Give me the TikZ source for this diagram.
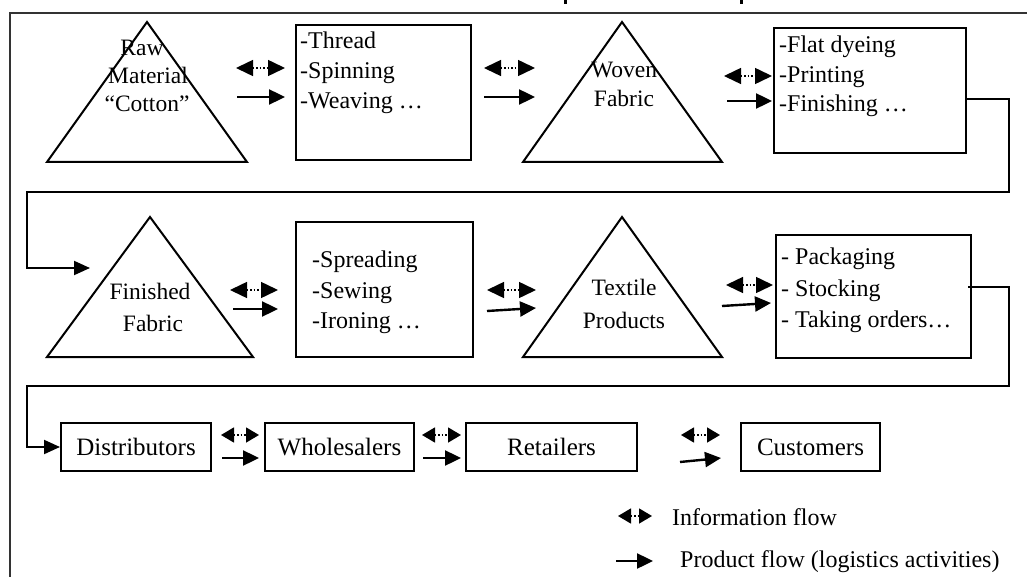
\documentclass[tikz,border=0pt]{standalone}
\usepackage{fontspec}
\setmainfont{Liberation Serif}
\usetikzlibrary{arrows.meta}
\begin{document}
\begin{tikzpicture}[x=1pt,y=-1pt,
  shapeline/.style={line width=2pt, line join=miter},
  box/.style={draw, line width=2pt, rectangle, inner sep=0pt},
  lbl/.style={anchor=base west, inner sep=0pt, font=\fontsize{24}{28}\selectfont},
  clbl/.style={anchor=base, inner sep=0pt, font=\fontsize{23.5}{28}\selectfont},
  rlbl/.style={anchor=base, inner sep=0pt, font=\fontsize{25}{28}\selectfont},
  infoarrow/.style={line width=1.5pt, dotted, {Triangle[length=17pt,width=16pt]}-{Triangle[length=17pt,width=16pt]}},
  smallinfo/.style={line width=1.5pt, dotted, {Triangle[length=13pt,width=15pt]}-{Triangle[length=13pt,width=15pt]}},
  prodarrow/.style={line width=2.4pt, -{Triangle[length=16pt,width=15pt]}},
  conn/.style={line width=2pt, line join=miter, -{Triangle[length=16pt,width=14pt]}},
]
\useasboundingbox (0,0) rectangle (1027,577);
\clip (0,0) rectangle (1027,577);
% frame and clipped title marks
\draw[line width=2.5pt, black!80] (10,13) rectangle (1100,700);
\fill (564,0) rectangle (566.5,4);
\fill (740,0) rectangle (742.5,4);

% ---------- row 1 ----------
\coordinate (t1a) at (147,22); \coordinate (t1b) at (47,162); \coordinate (t1c) at (247,162);
\draw[shapeline] (t1a) -- (t1b) -- (t1c) -- cycle;
\node[clbl] (t1l1) at (142,56) {Raw};
\node[clbl] (t1l2) at (148,84) {Material};
\node[clbl] (t1l3) at (147,112) {“Cotton”};

\node[box, minimum width=175, minimum height=135] (b1) at (383.5,92.5) {};
\node[lbl] (b1l1) at (300,49) {-Thread};
\node[lbl] (b1l2) at (300,79) {-Spinning};
\node[lbl] (b1l3) at (300,109) {-Weaving …};

\coordinate (t2a) at (622,22); \coordinate (t2b) at (523,162); \coordinate (t2c) at (722,162);
\draw[shapeline] (t2a) -- (t2b) -- (t2c) -- cycle;
\node[clbl] (t2l1) at (624,78) {Woven};
\node[clbl] (t2l2) at (624,107) {Fabric};

\node[box, minimum width=192, minimum height=125] (b2) at (870,90.5) {};
\node[lbl] (b2l1) at (779,53) {-Flat dyeing};
\node[lbl] (b2l2) at (779,83) {-Printing};
\node[lbl] (b2l3) at (779,112) {-Finishing …};

% ---------- row 2 ----------
\coordinate (t3a) at (150,217); \coordinate (t3b) at (47,357); \coordinate (t3c) at (253,357);
\draw[shapeline] (t3a) -- (t3b) -- (t3c) -- cycle;
\node[clbl] (t3l1) at (150,299) {Finished};
\node[clbl] (t3l2) at (153,331) {Fabric};

\node[box, minimum width=177, minimum height=135] (b3) at (384.5,289.5) {};
\node[lbl] (b3l1) at (312,267) {-Spreading};
\node[lbl] (b3l2) at (312,298) {-Sewing};
\node[lbl] (b3l3) at (312,328) {-Ironing …};

\coordinate (t4a) at (622,217); \coordinate (t4b) at (523,357); \coordinate (t4c) at (722,357);
\draw[shapeline] (t4a) -- (t4b) -- (t4c) -- cycle;
\node[clbl] (t4l1) at (624,295) {Textile};
\node[clbl] (t4l2) at (624,328) {Products};

\node[box, minimum width=195, minimum height=123] (b4) at (873.5,296.5) {};
\node[lbl] (b4l1) at (781,265) {- Packaging};
\node[lbl] (b4l2) at (781,296) {- Stocking};
\node[lbl] (b4l3) at (781,327) {- Taking orders…};

% ---------- row 3 ----------
\node[box, minimum width=150, minimum height=48] (d) at (136,447) {};
\node[rlbl] (dl) at (d.center) [yshift=-8.5pt] {Distributors};
\node[box, minimum width=149, minimum height=48] (w) at (339.5,447) {};
\node[rlbl] (wl) at (w.center) [yshift=-8.5pt] {Wholesalers};
\node[box, minimum width=171, minimum height=48] (r) at (551.5,447) {};
\node[rlbl] (rl) at (r.center) [yshift=-8.5pt] {Retailers};
\node[box, minimum width=139, minimum height=48] (c) at (810.5,447) {};
\node[rlbl] (cl) at (c.center) [yshift=-8.5pt] {Customers};

% ---------- flow arrows ----------
\coordinate (i1s) at (236,68); \coordinate (i1e) at (285,68);
\coordinate (p1s) at (237,97); \coordinate (p1e) at (285,97);
\coordinate (i2s) at (484,68); \coordinate (i2e) at (535,68);
\coordinate (p2s) at (484,97); \coordinate (p2e) at (535,97);
\coordinate (i3s) at (724,76); \coordinate (i3e) at (772,76);
\coordinate (p3s) at (727,101); \coordinate (p3e) at (772,101);
\coordinate (i4s) at (230,290); \coordinate (i4e) at (278,290);
\coordinate (p4s) at (233,309); \coordinate (p4e) at (278,309);
\coordinate (i5s) at (487,290); \coordinate (i5e) at (536,290);
\coordinate (p5s) at (487,311); \coordinate (p5e) at (536,308);
\coordinate (i6s) at (726,285); \coordinate (i6e) at (773,285);
\coordinate (p6s) at (722,306); \coordinate (p6e) at (771,303);
\foreach \k in {1,...,6}{
  \draw[infoarrow] (i\k s) -- (i\k e);
  \draw[prodarrow] (p\k s) -- (p\k e);
}
\coordinate (i7s) at (221,435); \coordinate (i7e) at (259,435);
\coordinate (p7s) at (222,458); \coordinate (p7e) at (259,458);
\coordinate (i8s) at (422,435); \coordinate (i8e) at (461,435);
\coordinate (p8s) at (423,458); \coordinate (p8e) at (461,458);
\coordinate (i9s) at (681,435); \coordinate (i9e) at (720,435);
\coordinate (p9s) at (680,462); \coordinate (p9e) at (721,458);
\foreach \k in {7,8,9}{
  \draw[smallinfo] (i\k s) -- (i\k e);
  \draw[prodarrow] (p\k s) -- (p\k e);
}

% ---------- long connectors ----------
\coordinate (k1) at (1009,99); \coordinate (k2) at (1009,192);
\coordinate (k3) at (27,192); \coordinate (k4) at (27,268);
\coordinate (k5) at (90,268);
\draw[conn] (b2.east |- k1) -- (k1) -- (k2) -- (k3) -- (k4) -- (k5);
\coordinate (m1) at (1009,287); \coordinate (m2) at (1009,386);
\coordinate (m3) at (27,386); \coordinate (m4) at (27,447);
\draw[conn] ([xshift=-4pt]b4.east |- m1) -- (m1) -- (m2) -- (m3) -- (m4) -- (d.west);

% ---------- legend ----------
\coordinate (li1) at (618,516); \coordinate (li2) at (652,516);
\draw[smallinfo] (li1) -- (li2);
\node[lbl] (lt1) at (672,525) {Information flow};
\coordinate (lp1) at (616,561); \coordinate (lp2) at (653,561);
\draw[prodarrow] (lp1) -- (lp2);
\node[lbl] (lt2) at (680,567) {Product flow (logistics activities)};
\end{tikzpicture}
\end{document}
